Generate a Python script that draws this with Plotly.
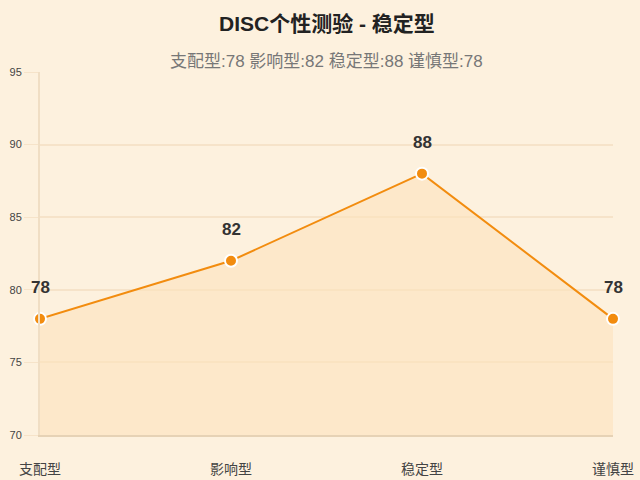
import plotly.graph_objects as go

# 数据
categories = ["支配型", "影响型", "稳定型", "谨慎型"]
scores = [78, 82, 88, 78]
y_ticks = [70, 75, 80, 85, 90, 95]

title_text = "DISC个性测验 - 稳定型"
subtitle_text = " ".join(f"{c}:{s}" for c, s in zip(categories, scores))

font_family = "Liberation Sans, Arial, Noto Sans CJK SC, sans-serif"
bg = "#FDF1DE"

fig = go.Figure()

fig.add_trace(go.Scatter(
    x=categories,
    y=scores,
    mode="lines+markers",
    line=dict(color="#F28C0F", width=2),
    marker=dict(size=12, color="#F28C0F", line=dict(color="#FFFFFF", width=2)),
    fill="tozeroy",
    fillcolor="rgba(253, 226, 188, 0.6)",
    cliponaxis=False,
    showlegend=False,
    hoverinfo="skip",
))

# 数值标签
labels = [
    dict(x=c, y=s, text=f"<b>{s}</b>", xref="x", yref="y", showarrow=False,
         yshift=31, font=dict(size=17, color="#333333"))
    for c, s in zip(categories, scores)
]

fig.update_layout(
    width=640,
    height=480,
    paper_bgcolor=bg,
    plot_bgcolor=bg,
    margin=dict(l=40, r=27, t=72, b=45),
    font=dict(family=font_family, color="#444444"),
    annotations=labels + [
        dict(text=f"<b>{title_text}</b>", x=0.5, y=1 + (72 - 23) / 363, xref="paper", yref="paper",
             yanchor="middle", showarrow=False, font=dict(size=21, color="#222222")),
        dict(text=subtitle_text, x=0.5, y=1 + (72 - 61) / 363, xref="paper", yref="paper",
             yanchor="middle", showarrow=False, font=dict(size=17, color="#777777")),
    ],
)

fig.update_xaxes(
    type="category",
    range=[0, len(categories) - 1],
    automargin=False,
    showgrid=False,
    showline=True,
    linecolor="#E6D2B5",
    linewidth=2,
    ticks="",
    ticklabelstandoff=20,
    tickfont=dict(size=14, color="#444444"),
    zeroline=False,
)
fig.update_yaxes(
    range=[70, 95],
    tickvals=y_ticks,
    automargin=False,
    showgrid=True,
    gridcolor="#F6E3C9",
    gridwidth=1.5,
    showline=True,
    linecolor="#F0DEC4",
    linewidth=2,
    ticks="outside",
    ticklen=14,
    tickcolor="#F6E3C9",
    tickfont=dict(size=11, color="#444444"),
    zeroline=False,
)

fig.write_html("out.html", config={"displayModeBar": False},
               post_script="document.body.style.margin='0';")
